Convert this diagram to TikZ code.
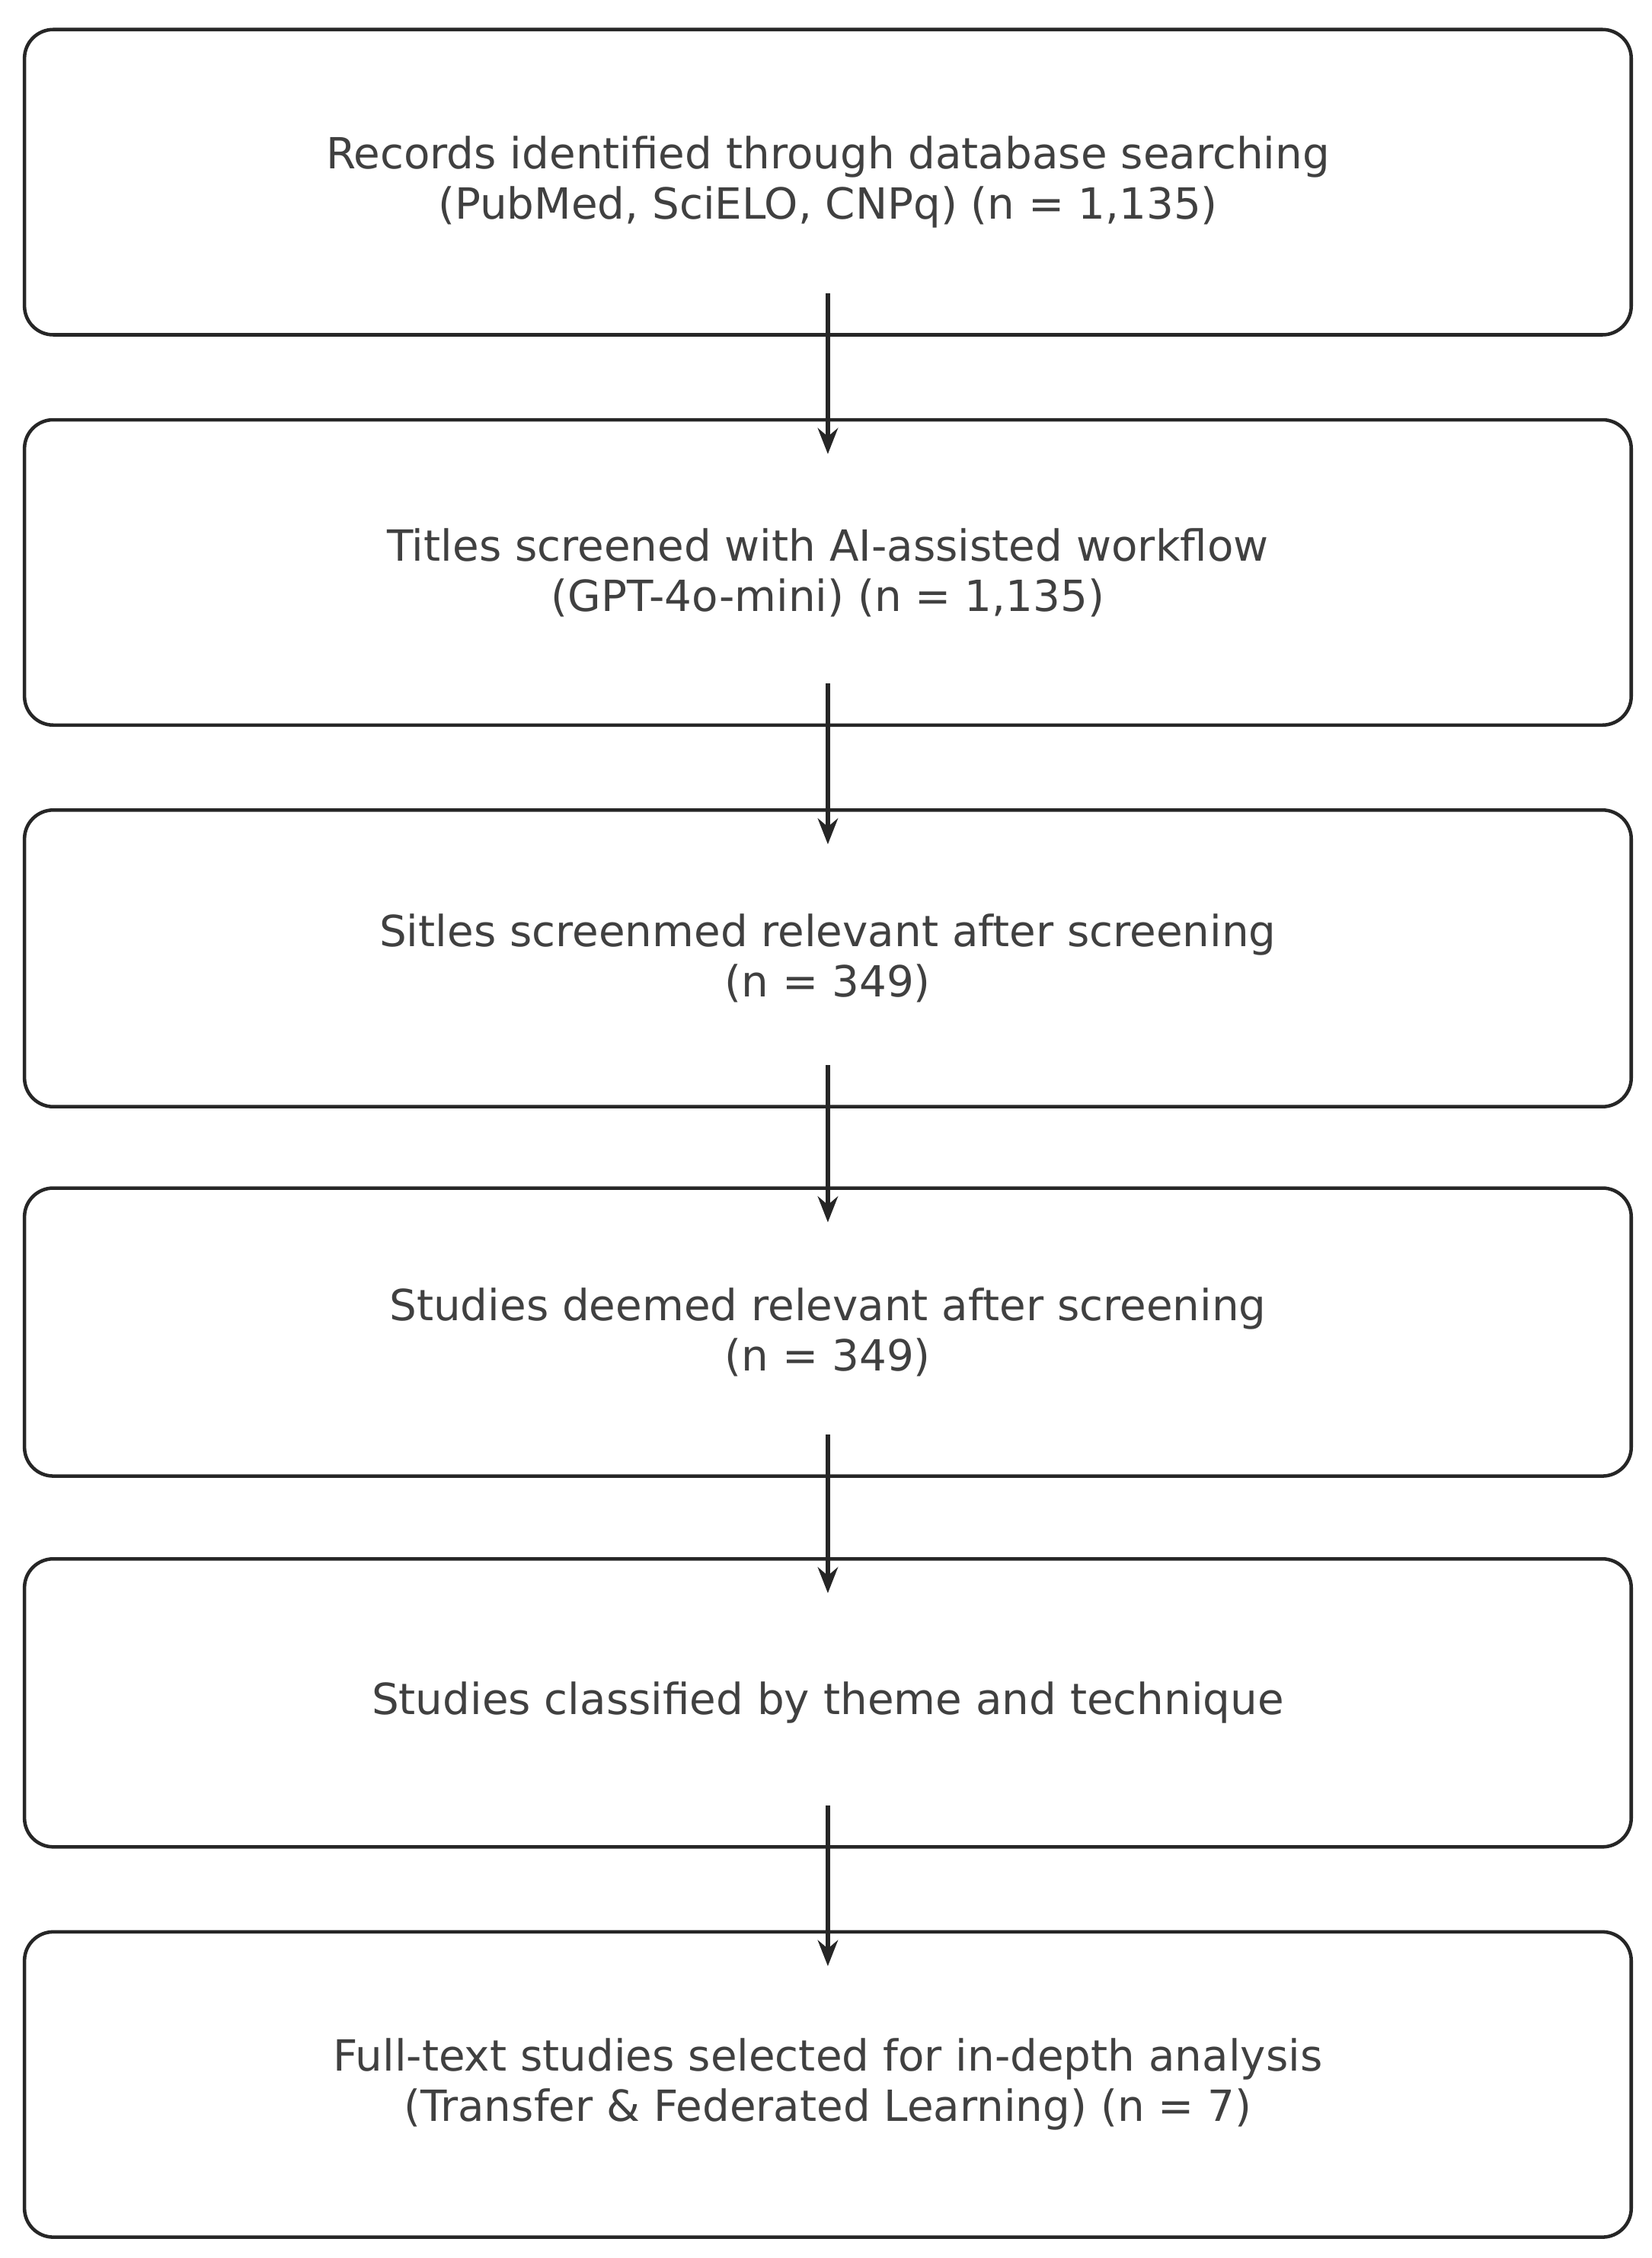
\documentclass[tikz,border=0pt]{standalone}
\usepackage{fontspec}
\setmainfont{DejaVu Sans}
\usetikzlibrary{arrows.meta}
\tikzset{
  stage/.style={draw=black!85, line width=1.2pt, rounded corners=10pt, minimum width=558pt,
    minimum height=106pt, align=center, text=black!75, font=\fontsize{14.9}{17.5}\selectfont},
  flow/.style={-{Stealth[length=9pt,width=7pt]}, line width=1.4pt, black!85}
}
\begin{document}
\begin{tikzpicture}[x=0.5pt,y=-0.5pt]
\useasboundingbox (0,0) rectangle (1147,1568);

\node[stage] (b1) at (575,126.5) {Records identified through database searching\\(PubMed, SciELO, CNPq) (n = 1,135)};
\node[stage] (b2) at (575,397.5) {Titles screened with AI-assisted workflow\\(GPT-4o-mini) (n = 1,135)};
\node[stage, minimum height=103pt] (b3) at (575,665.5) {Sitles screenmed relevant after screening\\(n = 349)};
\node[stage, minimum height=100pt] (b4) at (575,925) {Studies deemed relevant after screening\\(n = 349)};
\node[stage, minimum height=100pt] (b5) at (575,1182.5) {Studies classified by theme and technique};
\node[stage] (b6) at (575,1447.5) {Full-text studies selected for in-depth analysis\\(Transfer \& Federated Learning) (n = 7)};

\draw[flow] ([yshift=15pt]b1.south) -- ([yshift=-12.5pt]b2.north);
\draw[flow] ([yshift=15pt]b2.south) -- ([yshift=-12.5pt]b3.north);
\draw[flow] ([yshift=15pt]b3.south) -- ([yshift=-12.5pt]b4.north);
\draw[flow] ([yshift=15pt]b4.south) -- ([yshift=-12.5pt]b5.north);
\draw[flow] ([yshift=15pt]b5.south) -- ([yshift=-12.5pt]b6.north);
\end{tikzpicture}
\end{document}
